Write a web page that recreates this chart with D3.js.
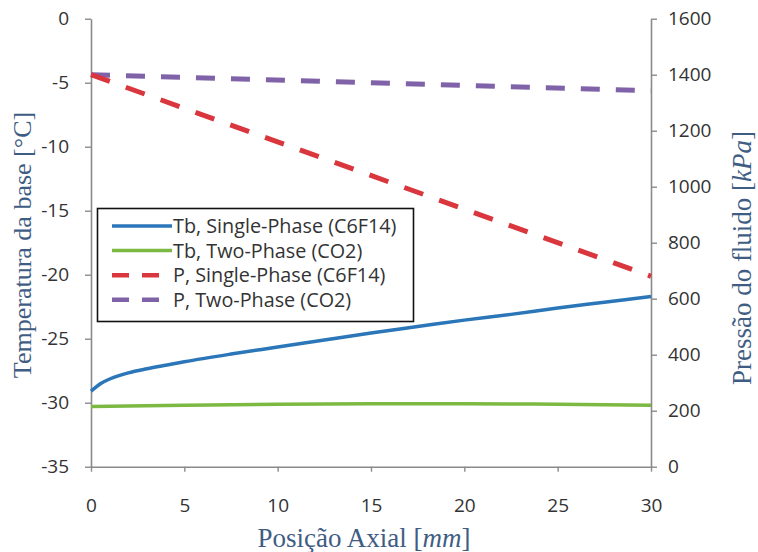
<!DOCTYPE html>
<html>
<head>
<meta charset="utf-8">
<script src="https://cdn.jsdelivr.net/npm/d3@7"></script>
<style>
  html, body { margin: 0; padding: 0; background: #fff; }
  svg { display: block; }
</style>
</head>
<body>
<svg id="chart" width="758" height="552"></svg>
<script>
// Axial position (mm) and series values
const tbSingleX = [0, 0.25, 0.5, 1, 1.5, 2, 3, 4, 5, 7.5, 10, 12.5, 15, 17.5, 20, 22.5, 25, 27.5, 30];
const tbSingle  = [-29.1, -28.8, -28.52, -28.15, -27.88, -27.67, -27.35, -27.07, -26.8, -26.2, -25.65, -25.1, -24.55, -24.05, -23.55, -23.1, -22.6, -22.15, -21.7];
const tbTwoX    = [0, 5, 10, 15, 20, 25, 30];
const tbTwo     = [-30.3, -30.2, -30.12, -30.08, -30.08, -30.12, -30.2];
const pSingleX  = [0, 30];
const pSingle   = [1400, 680];
const pTwoX     = [0, 30];
const pTwo      = [1400, 1343];

const xTicks  = [0, 5, 10, 15, 20, 25, 30];
const tTicks  = [0, -5, -10, -15, -20, -25, -30, -35];
const pTicks  = [0, 200, 400, 600, 800, 1000, 1200, 1400, 1600];

const legendLabels = [
  "Tb, Single-Phase (C6F14)",
  "Tb, Two-Phase (CO2)",
  "P, Single-Phase (C6F14)",
  "P, Two-Phase (CO2)"
];

const svg = d3.select("#chart");
const plotL = 91, plotR = 651, plotT = 18.7, plotB = 466.7;

const x  = d3.scaleLinear().domain([0, 30]).range([plotL, plotR]);
const yT = d3.scaleLinear().domain([-35, 0]).range([plotB, plotT]);
const yP = d3.scaleLinear().domain([0, 1600]).range([plotB, plotT]);

const axisColor = "#8a8a8a";
const tickFont = "'Open Sans', 'Liberation Sans', sans-serif";
const titleFont = "'Liberation Serif', 'DejaVu Serif', serif";
const titleColor = "#3f5d83";

function styleAxis(g) {
  g.selectAll(".domain").attr("stroke", axisColor).attr("stroke-width", 1.6);
  g.selectAll(".tick line").attr("stroke", axisColor).attr("stroke-width", 1.4);
  g.selectAll(".tick text")
    .attr("fill", "#333")
    .style("font-family", tickFont)
    .style("font-size", "19px");
}

// Bottom axis
svg.append("g")
  .attr("transform", `translate(0,${plotB})`)
  .call(d3.axisBottom(x).tickValues(xTicks).tickSize(5).tickSizeOuter(0).tickPadding(27))
  .call(styleAxis);

// Left axis: base temperature
svg.append("g")
  .attr("transform", `translate(${plotL},0)`)
  .call(d3.axisLeft(yT).tickValues(tTicks).tickSize(6).tickSizeOuter(0).tickPadding(16)
        .tickFormat(d => d === 0 ? "0" : "-" + Math.abs(d)))
  .call(styleAxis);

// Right axis: fluid pressure
svg.append("g")
  .attr("transform", `translate(${plotR},0)`)
  .call(d3.axisRight(yP).tickValues(pTicks).tickSize(6).tickSizeOuter(0).tickPadding(11)
        .tickFormat(d3.format("d")))
  .call(styleAxis);

// Series lines
const lineT = (xs, ys) => d3.line().x((d, i) => x(xs[i])).y(d => yT(d)).curve(d3.curveMonotoneX)(ys);
const lineP = (xs, ys) => d3.line().x((d, i) => x(xs[i])).y(d => yP(d))(ys);

const series = [
  { path: lineP(pTwoX, pTwo),         color: "#7f62a8", dash: "19,16", width: 5 },
  { path: lineP(pSingleX, pSingle),   color: "#d9373d", dash: "20,17", width: 5 },
  { path: lineT(tbTwoX, tbTwo),       color: "#7cb942", dash: null,    width: 3.5 },
  { path: lineT(tbSingleX, tbSingle), color: "#2a76b8", dash: null,    width: 3.5 }
];
series.forEach(s => {
  svg.append("path")
    .attr("d", s.path)
    .attr("fill", "none")
    .attr("stroke", s.color)
    .attr("stroke-width", s.width)
    .attr("stroke-dasharray", s.dash)
    .attr("stroke-linecap", "butt");
});

// Legend
const legendStyles = [
  { color: "#2a76b8", dash: null },
  { color: "#7cb942", dash: null },
  { color: "#d9373d", dash: "17,13" },
  { color: "#7f62a8", dash: "17,13" }
];
const lg = svg.append("g");
lg.append("rect")
  .attr("x", 97.5).attr("y", 208.5).attr("width", 316).attr("height", 113)
  .attr("fill", "#fff").attr("stroke", "#111").attr("stroke-width", 1.6);
legendLabels.forEach((label, i) => {
  const cy = 226 + i * 24.6;
  lg.append("line")
    .attr("x1", 112).attr("x2", 172).attr("y1", cy).attr("y2", cy)
    .attr("stroke", legendStyles[i].color)
    .attr("stroke-width", legendStyles[i].dash ? 4.5 : 3.5)
    .attr("stroke-dasharray", legendStyles[i].dash);
  lg.append("text")
    .attr("x", 173).attr("y", cy).attr("dy", "0.35em")
    .attr("fill", "#333")
    .style("font-family", tickFont)
    .style("font-size", "19.8px")
    .text(label);
});

// Axis titles
const xt = svg.append("text")
  .attr("x", 364).attr("y", 547)
  .attr("text-anchor", "middle")
  .attr("fill", titleColor)
  .style("font-family", titleFont).style("font-size", "27px");
xt.append("tspan").text("Posição Axial [");
xt.append("tspan").style("font-style", "italic").text("mm");
xt.append("tspan").text("]");

svg.append("text")
  .attr("transform", `translate(31,245) rotate(-90)`)
  .attr("text-anchor", "middle")
  .attr("fill", titleColor)
  .style("font-family", titleFont).style("font-size", "26px")
  .text("Temperatura da base [°C]");

const yt2 = svg.append("text")
  .attr("transform", `translate(751,258) rotate(-90)`)
  .attr("text-anchor", "middle")
  .attr("fill", titleColor)
  .style("font-family", titleFont).style("font-size", "27px");
yt2.append("tspan").text("Pressão do fluido [");
yt2.append("tspan").style("font-style", "italic").text("kPa");
yt2.append("tspan").text("]");
</script>
</body>
</html>
